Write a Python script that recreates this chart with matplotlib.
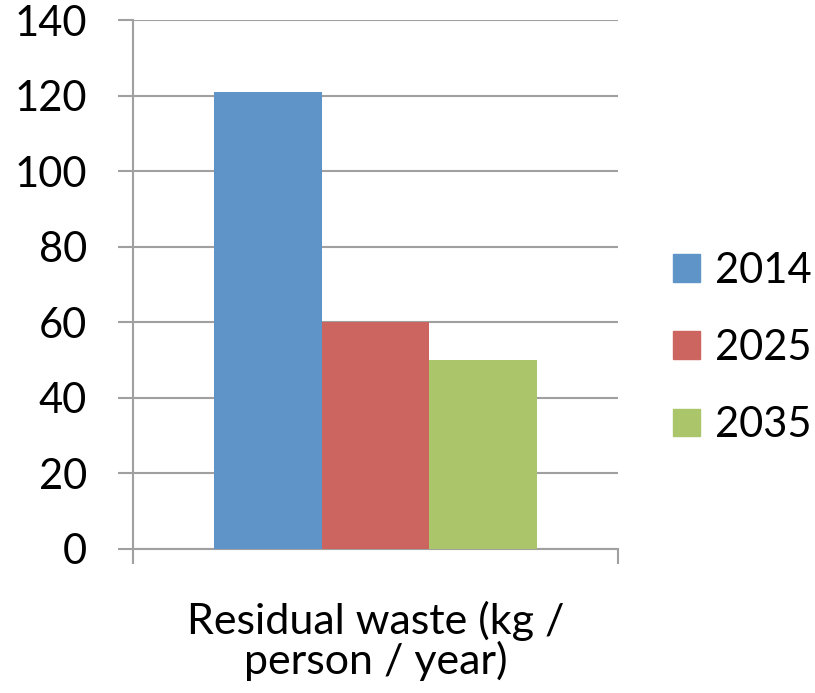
import numpy as np
import matplotlib.pyplot as plt
from matplotlib.patches import Patch

# data
category = "Residual waste (kg /\nperson / year)"
years = ["2014", "2025", "2035"]
values = [121, 60, 50]
colors = ["#5F94C8", "#CC6560", "#ABC56B"]

plt.rcParams['font.family'] = ['Lato', 'DejaVu Sans']

fig = plt.figure(figsize=(8.15, 6.93), dpi=100)
ax = fig.add_axes([133 / 815, 1 - 549 / 693, 485 / 815, 529 / 693])

width = 1 / 4.5
offsets = (np.arange(len(years)) - 1) * width
for off, v, c, y in zip(offsets, values, colors, years):
    ax.bar(off, v, width=width, color=c, label=y, zorder=3)

ax.set_xlim(-0.5, 0.5)
ax.set_ylim(0, 140)
ax.set_yticks(range(0, 141, 20))
ax.yaxis.grid(True, color='#A0A0A0', linewidth=1.5, zorder=0)

for s in ['top', 'right']:
    ax.spines[s].set_visible(False)
for s in ['left', 'bottom']:
    ax.spines[s].set_color('#A0A0A0')
    ax.spines[s].set_linewidth(1.5)

ax.tick_params(axis='y', length=11, width=1.5, color='#A0A0A0', pad=22, labelsize=30)
ax.set_xticks([0])
ax.set_xticklabels([category], fontsize=31, linespacing=1.0)
ax.set_xticks([-0.5, 0.5], minor=True)
ax.tick_params(axis='x', which='major', length=0, pad=37)
ax.tick_params(axis='x', which='minor', length=11, width=1.5, color='#A0A0A0')

handles = [Patch(color=c, label=y) for c, y in zip(colors, years)]
fig.legend(handles=handles, loc='center left', bbox_to_anchor=(673 / 815, 1 - 348 / 693),
           frameon=False, fontsize=30, handlelength=0.65, handleheight=0.65,
           handletextpad=0.35, labelspacing=0.94, borderpad=0, borderaxespad=0)

fig.savefig('out.png', dpi=100)
